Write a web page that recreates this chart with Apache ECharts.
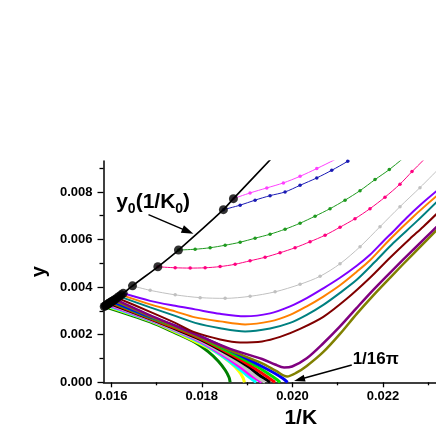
<!DOCTYPE html>
<html><head><meta charset="utf-8">
<script src="https://cdn.jsdelivr.net/npm/echarts@6/dist/echarts.min.js"></script>
<style>html,body{margin:0;padding:0;background:#fff}#c{width:436px;height:436px}</style>
</head><body><div id="c"></div>
<script>
// ---------- axis ticks ----------
const xTickLabels = [0.016, 0.018, 0.020, 0.022];
const xMinorTicks = [0.017, 0.019, 0.021, 0.023];
const yTickLabels = [0.000, 0.002, 0.004, 0.006, 0.008];
const yMinorTicks = [0.001, 0.003, 0.005, 0.007, 0.009];

// ---------- y0(1/K0) line ----------
const y0LineX = [0.01583, 0.016265, 0.01647, 0.01703, 0.017485, 0.018477, 0.018698, 0.01964];
const y0LineY = [0.00318, 0.003739, 0.004055, 0.004855, 0.005558, 0.007255, 0.007718, 0.009613];

// ---------- upper flows ----------
const magentaUpX = [0.018698, 0.019066, 0.019435, 0.019801, 0.020169, 0.020538, 0.020941, 0.021162];
const magentaUpY = [0.007718, 0.007958, 0.008168, 0.008379, 0.008657, 0.008981, 0.009360, 0.009571];
const blueUpX = [0.018477, 0.018846, 0.019176, 0.019507, 0.019838, 0.020169, 0.020538, 0.020868, 0.021221, 0.021382];
const blueUpY = [0.007255, 0.007444, 0.007655, 0.007844, 0.008000, 0.008278, 0.008589, 0.008909, 0.009288, 0.009486];
const greenUpX = [0.017485, 0.017853, 0.018184, 0.018515, 0.018846, 0.019176, 0.019507, 0.019838, 0.020169, 0.020500, 0.020831, 0.021162, 0.021493, 0.021824, 0.022139, 0.022413, 0.022596];
const greenUpY = [0.005558, 0.005592, 0.005655, 0.005760, 0.005886, 0.006055, 0.006223, 0.006434, 0.006686, 0.006981, 0.007297, 0.007655, 0.008055, 0.008518, 0.008939, 0.009360, 0.009613];
const pinkUpX = [0.017030, 0.017412, 0.017743, 0.018074, 0.018404, 0.018735, 0.019066, 0.019397, 0.019728, 0.020059, 0.020390, 0.020721, 0.021051, 0.021382, 0.021713, 0.022044, 0.022375, 0.022640, 0.022883, 0.022993];
const pinkUpY = [0.004855, 0.004813, 0.004800, 0.004813, 0.004863, 0.004960, 0.005107, 0.005255, 0.005444, 0.005655, 0.005907, 0.006181, 0.006518, 0.006876, 0.007297, 0.007781, 0.008328, 0.008855, 0.009318, 0.009528];
const grayUpX = [0.016470, 0.016860, 0.017412, 0.017963, 0.018515, 0.019066, 0.019618, 0.020169, 0.020610, 0.021051, 0.021493, 0.021934, 0.022375, 0.022816, 0.023257];
const grayUpY = [0.004055, 0.003865, 0.003676, 0.003558, 0.003528, 0.003613, 0.003802, 0.004118, 0.004455, 0.004981, 0.005697, 0.006539, 0.007381, 0.008181, 0.009023];

// ---------- middle flows ----------
const violetX = [0.016265, 0.016860, 0.017412, 0.017853, 0.018404, 0.018956, 0.019507, 0.019949, 0.020317, 0.020683, 0.021051, 0.021420, 0.021713, 0.022007, 0.022265, 0.022523, 0.022816, 0.023257];
const violetY = [0.003739, 0.003423, 0.003213, 0.003065, 0.002876, 0.002771, 0.002897, 0.003192, 0.003537, 0.003949, 0.004392, 0.004897, 0.005360, 0.005928, 0.006413, 0.006918, 0.007444, 0.008160];
const orangeX = [0.016221, 0.016860, 0.017412, 0.017853, 0.018404, 0.018956, 0.019507, 0.019949, 0.020317, 0.020683, 0.021051, 0.021420, 0.021713, 0.022154, 0.022668, 0.023257];
const orangeY = [0.003676, 0.003276, 0.002981, 0.002728, 0.002560, 0.002434, 0.002560, 0.002834, 0.003192, 0.003604, 0.004076, 0.004644, 0.005128, 0.006013, 0.006960, 0.007950];
const tealX = [0.016176, 0.016860, 0.017412, 0.017853, 0.018404, 0.018956, 0.019507, 0.019949, 0.020317, 0.020683, 0.021051, 0.021420, 0.021824, 0.022227, 0.022743, 0.023257];
const tealY = [0.003613, 0.003149, 0.002792, 0.002497, 0.002274, 0.002139, 0.002265, 0.002497, 0.002834, 0.003255, 0.003760, 0.004307, 0.005065, 0.005853, 0.006762, 0.007718];
const darkRedX = [0.016132, 0.016860, 0.017412, 0.017853, 0.018404, 0.018846, 0.019331, 0.019728, 0.020169, 0.020683, 0.021199, 0.021713, 0.022154, 0.022596, 0.022889, 0.023257];
const darkRedY = [0.003549, 0.002960, 0.002497, 0.002097, 0.001802, 0.001676, 0.001718, 0.001907, 0.002244, 0.002749, 0.003507, 0.004392, 0.005234, 0.006034, 0.006539, 0.007213];
const purpleX = [0.016088, 0.016860, 0.017412, 0.017963, 0.018625, 0.019331, 0.019618, 0.019816, 0.019993, 0.020317, 0.020683, 0.021051, 0.021420, 0.021786, 0.022154, 0.022668, 0.023257];
const purpleY = [0.003486, 0.002813, 0.002371, 0.001928, 0.001402, 0.000981, 0.000749, 0.000623, 0.000665, 0.001011, 0.001642, 0.002349, 0.003128, 0.003886, 0.004602, 0.005571, 0.006665];
const oliveX = [0.016055, 0.016860, 0.017412, 0.017963, 0.018625, 0.019331, 0.019640, 0.019882, 0.020081, 0.020317, 0.020683, 0.021051, 0.021420, 0.021786, 0.022154, 0.022668, 0.023257];
const oliveY = [0.003444, 0.002771, 0.002328, 0.001886, 0.001339, 0.000792, 0.000476, 0.000244, 0.000392, 0.000686, 0.001276, 0.002034, 0.002876, 0.003655, 0.004392, 0.005402, 0.006539];

// ---------- lower flows (reach y = 0) ----------
const blueLoX = [0.016022, 0.016860, 0.017412, 0.017963, 0.018625, 0.019287, 0.019618, 0.019794, 0.019894];
const blueLoY = [0.003402, 0.002749, 0.002371, 0.001928, 0.001339, 0.000707, 0.000371, 0.000160, 0];
const limeLoX = [0.016000, 0.016860, 0.017412, 0.017963, 0.018625, 0.019176, 0.019463, 0.019640, 0.019728];
const limeLoY = [0.003381, 0.002716, 0.002328, 0.001886, 0.001255, 0.000707, 0.000371, 0.000139, 0];
const redLoX = [0.015978, 0.016860, 0.017412, 0.017963, 0.018625, 0.019066, 0.019353, 0.019529, 0.019618];
const redLoY = [0.003352, 0.002686, 0.002286, 0.001844, 0.001192, 0.000707, 0.000349, 0.000118, 0];
const blackLoX = [0.015956, 0.016860, 0.017412, 0.017963, 0.018625, 0.019022, 0.019265, 0.019419, 0.019507];
const blackLoY = [0.003322, 0.002665, 0.002244, 0.001802, 0.001128, 0.000665, 0.000307, 0.000118, 0];
const silverLoX = [0.015934, 0.016860, 0.017412, 0.017963, 0.018515, 0.018912, 0.019154, 0.019309, 0.019397];
const silverLoY = [0.003297, 0.002644, 0.002202, 0.001760, 0.001149, 0.000665, 0.000307, 0.000097, 0];
const magentaLoX = [0.015912, 0.016860, 0.017412, 0.017963, 0.018515, 0.018846, 0.019088, 0.019243, 0.019324];
const magentaLoY = [0.003267, 0.002623, 0.002181, 0.001718, 0.001086, 0.000644, 0.000286, 0.000097, 0];
const cyanLoX = [0.015890, 0.016860, 0.017412, 0.017963, 0.018404, 0.018757, 0.019000, 0.019132, 0.019199];
const cyanLoY = [0.003238, 0.002602, 0.002160, 0.001676, 0.001171, 0.000665, 0.000286, 0.000097, 0];
const yellowLoX = [0.015868, 0.016860, 0.017412, 0.017963, 0.018294, 0.018625, 0.018824, 0.018912, 0.018941];
const yellowLoY = [0.003213, 0.002581, 0.002118, 0.001613, 0.001297, 0.000834, 0.000455, 0.000181, 0];
const greenLoX = [0.015846, 0.016860, 0.017412, 0.017853, 0.018140, 0.018360, 0.018515, 0.018603, 0.018625];
const greenLoY = [0.003187, 0.002539, 0.002076, 0.001676, 0.001288, 0.000897, 0.000518, 0.000202, 0];

// ---------- annotation anchors (data coordinates) ----------
const y0TextAt = [0.01611, 0.00755];
const y0ArrowFrom = [0.016823, 0.007044];
const y0ArrowTo = [0.017815, 0.006244];
const piTextAt = [0.02133, 0.00098];
const piArrowFrom = [0.02131, 0.000728];
const piArrowTo = [0.020037, 0.000055];

const FONT = '"Liberation Sans", Arial, Helvetica, sans-serif';
const zip = (xs, ys) => xs.map((x, i) => [x, ys[i]]);

const curves = [
  // lower
  {x: greenLoX, y: greenLoY, color: '#008000', w: 3, s: 0},
  {x: yellowLoX, y: yellowLoY, color: '#ffff00', w: 3, s: 0},
  {x: cyanLoX, y: cyanLoY, color: '#00ffff', w: 3, s: 0},
  {x: magentaLoX, y: magentaLoY, color: '#ff00ff', w: 3, s: 0},
  {x: silverLoX, y: silverLoY, color: '#c0c0c0', w: 3, s: 0},
  {x: blackLoX, y: blackLoY, color: '#000000', w: 3, s: 0},
  {x: redLoX, y: redLoY, color: '#ff0000', w: 3, s: 0},
  {x: limeLoX, y: limeLoY, color: '#00e000', w: 3, s: 0},
  {x: blueLoX, y: blueLoY, color: '#0000ff', w: 3, s: 0},
  // middle
  {x: oliveX, y: oliveY, color: '#808000', w: 2.5, s: 0},
  {x: purpleX, y: purpleY, color: '#800080', w: 2.5, s: 0},
  {x: darkRedX, y: darkRedY, color: '#800000', w: 2, s: 0},
  {x: tealX, y: tealY, color: '#008080', w: 2, s: 0},
  {x: orangeX, y: orangeY, color: '#ff8000', w: 2, s: 0},
  {x: violetX, y: violetY, color: '#8000ff', w: 2, s: 0},
  // upper
  {x: grayUpX, y: grayUpY, color: '#c0c0c0', w: 1, s: 3.5},
  {x: pinkUpX, y: pinkUpY, color: '#ff0080', w: 1, s: 3.5},
  {x: greenUpX, y: greenUpY, color: '#1f9a1f', w: 1, s: 3.5},
  {x: blueUpX, y: blueUpY, color: '#1a1ab4', w: 1, s: 3.5},
  {x: magentaUpX, y: magentaUpY, color: '#ff40ff', w: 1, s: 3.5}
];

const series = curves.map(c => ({
  type: 'line',
  data: zip(c.x, c.y),
  smooth: 0.3,
  showSymbol: c.s > 0,
  symbol: 'circle',
  symbolSize: c.s,
  itemStyle: {color: c.color},
  lineStyle: {color: c.color, width: c.w},
  silent: true,
  clip: true,
  z: 2
}));

series.push({
  type: 'line',
  data: zip(y0LineX, y0LineY),
  smooth: 0.2,
  showSymbol: false,
  lineStyle: {color: '#000', width: 1.6},
  silent: true, clip: true, z: 3
});
series.push({
  type: 'scatter',
  data: curves.map(c => [c.x[0], c.y[0]]),
  symbol: 'circle',
  symbolSize: 9,
  itemStyle: {color: '#000'},
  silent: true, clip: false, z: 4
});

const xMin = 0.01583, xMax = 0.02317, yMin = 0, yMax = 0.0093;
const labelStyle = {fontFamily: FONT, fontWeight: 'bold', fontSize: 13, color: '#000'};

const chart = echarts.init(document.getElementById('c'), null, {renderer: 'canvas'});
chart.setOption({
  animation: false,
  backgroundColor: '#fff',
  grid: {left: 103.5, right: 0, top: 161, bottom: 53.7, containLabel: false, outerBoundsMode: 'none'},
  xAxis: [{
    type: 'value', min: xMin, max: xMax,
    axisLine: {show: true, lineStyle: {color: '#000', width: 1.5}},
    axisTick: {show: true, length: 5, lineStyle: {color: '#000', width: 1.3}, customValues: xTickLabels},
    axisLabel: Object.assign({margin: 8, customValues: xTickLabels, formatter: v => v.toFixed(3)}, labelStyle),
    splitLine: {show: false},
    name: '1/K', nameLocation: 'middle', nameGap: 24,
    nameTextStyle: {fontFamily: FONT, fontWeight: 'bold', fontSize: 21, color: '#000', padding: [0, 0, 0, 62]}
  }, {
    type: 'value', min: xMin, max: xMax, position: 'bottom',
    axisLine: {show: false},
    axisTick: {show: true, length: 3, lineStyle: {color: '#000', width: 1.3}, customValues: xMinorTicks},
    axisLabel: {show: false}, splitLine: {show: false}
  }],
  yAxis: [{
    type: 'value', min: yMin, max: yMax,
    axisLine: {show: true, lineStyle: {color: '#000', width: 1.5}},
    axisTick: {show: true, length: 6, lineStyle: {color: '#000', width: 1.3}, customValues: yTickLabels},
    axisLabel: Object.assign({margin: 11, customValues: yTickLabels, formatter: v => v.toFixed(3)}, labelStyle),
    splitLine: {show: false},
    name: 'y', nameLocation: 'middle', nameGap: 52,
    nameTextStyle: {fontFamily: FONT, fontWeight: 'bold', fontSize: 20, color: '#000'}
  }, {
    type: 'value', min: yMin, max: yMax, position: 'left',
    axisLine: {show: false},
    axisTick: {show: true, length: 4, lineStyle: {color: '#000', width: 1.3}, customValues: yMinorTicks},
    axisLabel: {show: false}, splitLine: {show: false}
  }],
  series: series
});

function px(p) { return chart.convertToPixel({gridIndex: 0}, p); }
function arrow(a, b, headLen, headW) {
  const p1 = px(a), p2 = px(b);
  const dx = p2[0] - p1[0], dy = p2[1] - p1[1], L = Math.hypot(dx, dy);
  const ux = dx / L, uy = dy / L;
  const bx = p2[0] - ux * headLen, by = p2[1] - uy * headLen;
  return [
    {type: 'line', silent: true, z: 10, shape: {x1: p1[0], y1: p1[1], x2: bx + ux * 2, y2: by + uy * 2}, style: {stroke: '#000', lineWidth: 1.5}},
    {type: 'polygon', silent: true, z: 10, shape: {points: [[p2[0], p2[1]], [bx - uy * headW, by + ux * headW], [bx + uy * headW, by - ux * headW]]}, style: {fill: '#000'}}
  ];
}
const tY0 = px(y0TextAt), tPi = px(piTextAt);
chart.setOption({
  graphic: [
    {type: 'text', silent: true, z: 10, x: tY0[0], y: tY0[1], style: {
      text: '{a|y}{s|0}{a|(1/K}{s|0}{a|)}', align: 'left', verticalAlign: 'middle', fill: '#000',
      rich: {
        a: {fontFamily: FONT, fontWeight: 'bold', fontSize: 21, lineHeight: 26, fill: '#000'},
        s: {fontFamily: FONT, fontWeight: 'bold', fontSize: 14, lineHeight: 13, verticalAlign: 'bottom', fill: '#000'}
      }}},
    {type: 'text', silent: true, z: 10, x: tPi[0], y: tPi[1], style: {
      text: '1/16π', align: 'left', verticalAlign: 'middle', fill: '#000',
      font: 'bold 17px ' + FONT}}
  ].concat(arrow(y0ArrowFrom, y0ArrowTo, 12, 4)).concat(arrow(piArrowFrom, piArrowTo, 11, 3.5))
});
</script>
</body></html>
